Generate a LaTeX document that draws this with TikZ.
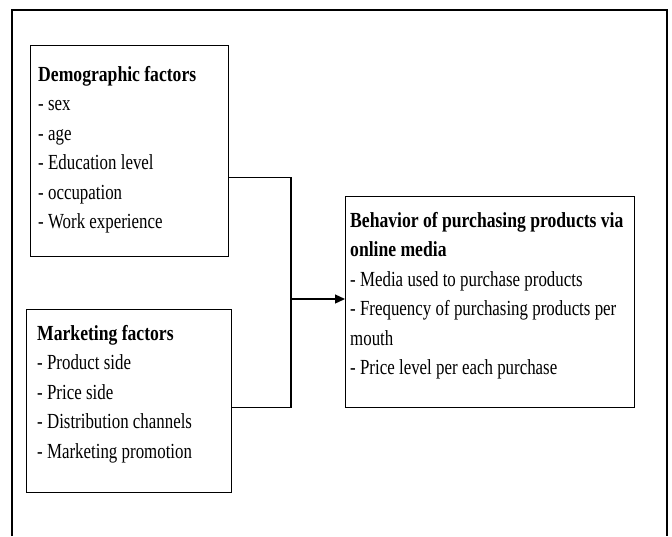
\documentclass[tikz,border=0pt]{standalone}
\usepackage{fontspec}
\setmainfont[FakeStretch=0.785, BoldFeatures={FakeStretch=0.82}]{Liberation Serif}
\usetikzlibrary{arrows.meta, positioning, calc}

\begin{document}
\begin{tikzpicture}[
    x=1pt, y=-1pt,
    box/.style={draw, line width=1pt, anchor=north west, inner sep=0pt},
    boxtext/.style={anchor=base west, text width=#1, align=left, inner sep=0pt,
        font=\fontsize{21.5}{29.5}\selectfont, execute at begin node={\spaceskip=4.3pt\relax}},
    link/.style={line width=1.1pt},
    arrow/.style={-{Triangle[length=10pt, width=9pt]}, line width=1.3pt}
]
    \useasboundingbox (0,0) rectangle (672,536);
    % outer frame, open at the bottom
    \draw[line width=1.4pt] (12,536) -- (12,10) -- (667,10) -- (667,536);

    \node[box, minimum width=198pt, minimum height=211pt] (dem) at (30,45) {};
    \node[boxtext=185pt] (demtxt) at ($(dem.north west)+(8,36)$) {\textbf{Demographic factors}\\- sex\\- age\\- Education level\\- occupation\\- Work experience};

    \node[box, minimum width=205pt, minimum height=183pt] (mkt) at (26,309) {};
    \node[boxtext=190pt] (mkttxt) at ($(mkt.north west)+(11,31)$) {\textbf{Marketing factors}\\- Product side\\- Price side\\- Distribution channels\\- Marketing promotion};

    \node[box, minimum width=289pt, minimum height=211pt] (beh) at (345,196) {};
    \node[boxtext=285pt] (behtxt) at ($(beh.north west)+(5,31)$) {\textbf{Behavior of purchasing products via}\\\textbf{online media}\\- Media used to purchase products\\- Frequency of purchasing products per\\mouth\\- Price level per each purchase};

    \coordinate (join) at (291,299);
    \draw[link] ([yshift=-26.5pt]dem.east) -| (join) |- ([yshift=-6.5pt]mkt.east);
    \draw[arrow] (join) -- (join -| beh.west);
\end{tikzpicture}
\end{document}
